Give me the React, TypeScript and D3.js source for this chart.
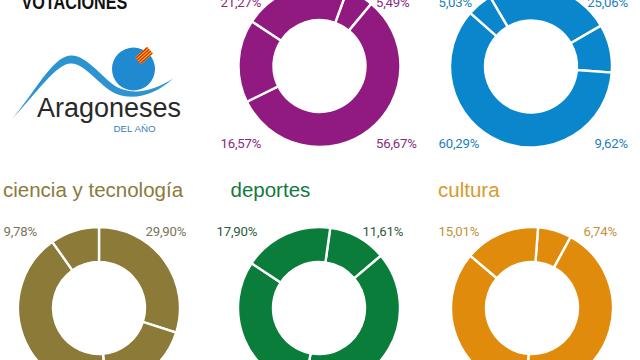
import React from "react";
import * as d3 from "d3";

// ---- data ----
const topCenterValues = [5.49, 56.67, 16.57, 21.27];
const topRightValues = [25.06, 9.62, 60.29, 5.03];
const cienciaValues = [29.9, 18.72, 41.6, 9.78];
const deportesValues = [11.61, 39.08, 31.41, 17.9];
const culturaValues = [6.74, 43.25, 35.0, 15.01];
const bottomTitles = ["ciencia y tecnología", "deportes", "cultura"];
const headerTitle = "VOTACIONES";
const logoWord = "Aragoneses";
const logoSub = "DEL AÑO";

// ---- layout / style ----
const W = 640;
const H = 360;
const R_OUT = 81;
const R_IN = 46;
const fmt = (v: number) => d3.format(".2f")(v).replace(".", ",");

type Layout = {
  values: number[];
  cx: number;
  cy: number;
  start: number; // degrees clockwise from 12 o'clock
  fill: string;
  labelColor: string;
  leftX: number;
  rightX: number;
  rightAnchor: "start" | "end";
  topY: number;
  bottomY: number;
  title?: string;
  titleColor?: string;
  titleX?: number;
};

const charts: Layout[] = [
  {
    values: topCenterValues, cx: 319.5, cy: 66, start: 20, fill: "#911a80", labelColor: "#8a2a7e",
    leftX: 220.5, rightX: 376, rightAnchor: "start", topY: 6.5, bottomY: 147.5,
  },
  {
    values: topRightValues, cx: 531, cy: 66.5, start: -30.5, fill: "#0a87cc", labelColor: "#1d7fb8",
    leftX: 438.5, rightX: 628, rightAnchor: "end", topY: 6.5, bottomY: 147.5,
  },
  {
    values: cienciaValues, cx: 99, cy: 308, start: 0, fill: "#8c7a38", labelColor: "#7b7358",
    leftX: 3.5, rightX: 145.5, rightAnchor: "start", topY: 235.5, bottomY: 389.5,
    title: bottomTitles[0], titleColor: "#8a7a3c", titleX: 3,
  },
  {
    values: deportesValues, cx: 319, cy: 308, start: 8, fill: "#0a7d3a", labelColor: "#2f5a3c",
    leftX: 216.5, rightX: 362.5, rightAnchor: "start", topY: 235.5, bottomY: 389.5,
    title: bottomTitles[1], titleColor: "#127a40", titleX: 230.5,
  },
  {
    values: culturaValues, cx: 532, cy: 308, start: 4.3, fill: "#e08b0b", labelColor: "#c4913a",
    leftX: 438.5, rightX: 583.5, rightAnchor: "start", topY: 235.5, bottomY: 389.5,
    title: bottomTitles[2], titleColor: "#d79a2c", titleX: 438,
  },
];

const labelFont = "Roboto, 'Liberation Sans', sans-serif";
const titleFont = "'Liberation Sans', Arial, sans-serif";

function Donut({ c }: { c: Layout }) {
  const s = (c.start * Math.PI) / 180;
  const pie = d3
    .pie<number>()
    .sort(null)
    .value((d) => d)
    .startAngle(s)
    .endAngle(s + Math.PI * 2);
  const arc = d3.arc<d3.PieArcDatum<number>>().innerRadius(R_IN).outerRadius(R_OUT);
  const arcs = pie(c.values);
  // label corners in order: top-right, bottom-right, bottom-left, top-left
  const corners = [
    { x: c.rightX, y: c.topY, a: c.rightAnchor },
    { x: c.rightX, y: c.bottomY, a: c.rightAnchor },
    { x: c.leftX, y: c.bottomY, a: "start" },
    { x: c.leftX, y: c.topY, a: "start" },
  ];
  return (
    <g>
      <g transform={`translate(${c.cx},${c.cy})`}>
        {arcs.map((a, i) => (
          <path key={i} d={arc(a) || ""} fill={c.fill} stroke="#ffffff" strokeWidth={2.4} strokeLinejoin="miter" />
        ))}
      </g>
      {c.values.map((v, i) => (
        <text
          key={i}
          x={corners[i].x}
          y={corners[i].y}
          textAnchor={corners[i].a as any}
          fill={c.labelColor}
          fontFamily={labelFont}
          fontSize={13.2}
          letterSpacing={-0.2}
        >
          {fmt(v)}%
        </text>
      ))}
      {c.title && (
        <text x={c.titleX} y={196.5} fill={c.titleColor} fontFamily={titleFont} fontSize={20.5}>
          {c.title}
        </text>
      )}
    </g>
  );
}

function Logo() {
  const swoosh =
    "M12,119 C33,95 52,57 70,55.5 C87,54 103,80 119,88 C135,95 154,91 173,78.5 " +
    "C156,94 136,100.5 118,94.5 C101,88.5 86,63.5 71,63.5 C56,63.5 36,94 12,119 Z";
  const stripes = [0, 1, 2, 3];
  return (
    <g>
      <path d={swoosh} fill="#2e93d1" />
      <circle cx={133.5} cy={69} r={21.5} fill="#1f8ad0" />
      <g transform="translate(144,55.5) rotate(-42)">
        <rect x={-8} y={-4.6} width={16} height={9.2} fill="#f4c20d" />
        {stripes.map((k) => (
          <rect key={k} x={-8} y={-4.2 + k * 2.4} width={16} height={1.3} fill="#d8261c" />
        ))}
      </g>
      <text x={37} y={116.5} fill="#2a2a2a" fontFamily={titleFont} fontSize={27} fontWeight={300}>
        {logoWord}
      </text>
      <text x={113.5} y={131.5} fill="#3a7fb8" fontFamily={titleFont} fontSize={9.8}>
        {logoSub}
      </text>
    </g>
  );
}

export default function App() {
  return (
    <svg
      width={W}
      height={H}
      viewBox={`0 0 ${W} ${H}`}
      style={{ position: "absolute", left: 0, top: 0, background: "#ffffff" }}
    >
      <rect width={W} height={H} fill="#ffffff" />
      <g transform="translate(21.5,9) scale(0.81,1)">
        <text
          x={0}
          y={0}
          fill="#111111"
          fontFamily="'Liberation Sans', Arial, sans-serif"
          fontWeight={700}
          fontSize={20}
        >
          {headerTitle}
        </text>
      </g>
      <Logo />
      {charts.map((c, i) => (
        <Donut key={i} c={c} />
      ))}
    </svg>
  );
}
